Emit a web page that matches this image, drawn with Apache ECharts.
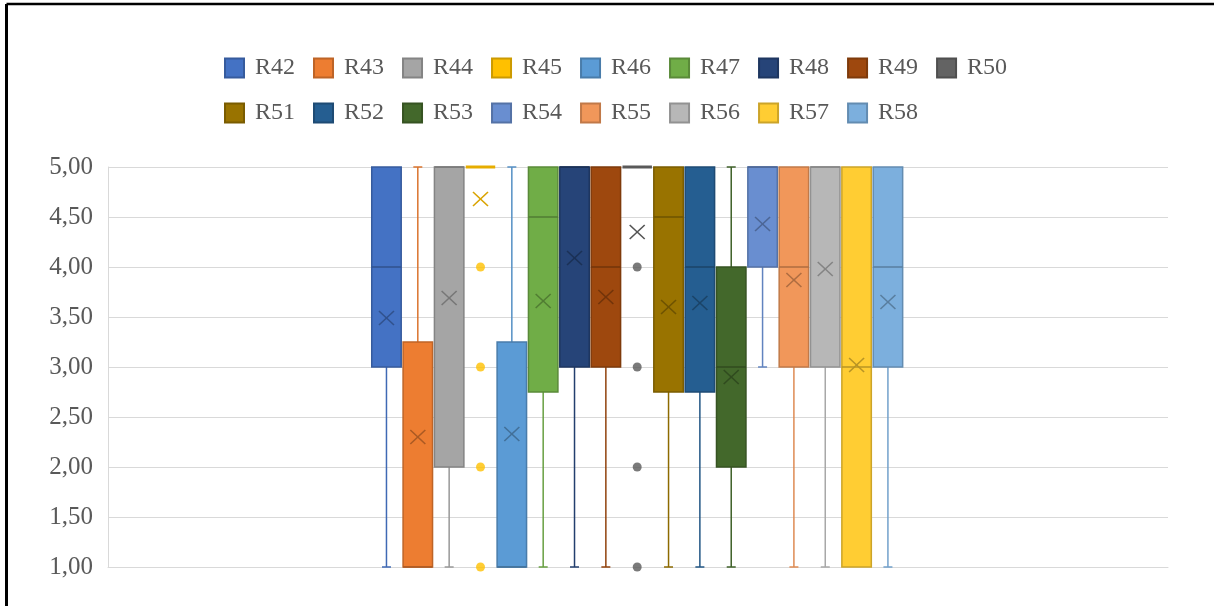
<!DOCTYPE html>
<html>
<head>
<meta charset="utf-8">
<script src="https://cdn.jsdelivr.net/npm/echarts@6/dist/echarts.min.js"></script>
<style>
html,body{margin:0;padding:0;background:#fff;}
#chart{width:1214px;height:606px;}
</style>
</head>
<body>
<div id="chart"></div>
<script>
// ---- data ----
const names   = ['R42','R43','R44','R45','R46','R47','R48','R49','R50','R51','R52','R53','R54','R55','R56','R57','R58'];
const mins    = [1, 1, 1, 5, 1, 1,    1, 1, 5, 1,    1,    1, 3, 1, 1, 1, 1];
const q1s     = [3, 1, 2, 5, 1, 2.75, 3, 3, 5, 2.75, 2.75, 2, 4, 3, 3, 1, 3];
const medians = [4, 1, 5, 5, 1, 4.5,  5, 4, 5, 4.5,  4,    3, 5, 4, 5, 3, 4];
const q3s     = [5, 3.25, 5, 5, 3.25, 5, 5, 5, 5, 5, 5, 4, 5, 5, 5, 5, 5];
const maxs    = [5, 5, 5, 5, 5, 5, 5, 5, 5, 5, 5, 5, 5, 5, 5, 5, 5];
const means   = [3.49, 2.30, 3.69, 4.68, 2.33, 3.66, 4.09, 3.70, 4.35, 3.60, 3.64, 2.90, 4.43, 3.87, 3.98, 3.02, 3.65];
const outliersR45 = [4, 3, 2, 1];
const outliersR50 = [4, 3, 2, 1];
const yTicks = [1, 1.5, 2, 2.5, 3, 3.5, 4, 4.5, 5];

// ---- styles ----
const colors = ['#4472C4','#ED7D31','#A5A5A5','#FFC000','#5B9BD5','#70AD47','#264478','#9E480E','#636363',
                '#997300','#255E91','#43682B','#698ED0','#F1975A','#B7B7B7','#FFCD33','#7CAFDD'];
function shade(hex, f) {
  const n = parseInt(hex.slice(1), 16);
  const r = Math.round(((n >> 16) & 255) * f), g = Math.round(((n >> 8) & 255) * f), b = Math.round((n & 255) * f);
  return '#' + [r, g, b].map(v => v.toString(16).padStart(2, '0')).join('');
}
const FONT = 'Liberation Serif';
const TXT = '#595959';

function makeRender(k) {
  return function (params, api) {
    const x = api.value(0);
    const pQ1 = api.coord([x, api.value(2)]);
    const cx = pQ1[0];
    const yMin = api.coord([x, api.value(1)])[1];
    const yQ1 = pQ1[1];
    const yMed = api.coord([x, api.value(3)])[1];
    const yQ3 = api.coord([x, api.value(4)])[1];
    const yMax = api.coord([x, api.value(5)])[1];
    const yMean = api.coord([x, api.value(6)])[1];
    const bw = api.size([1, 0])[0] * 0.94;
    const border = shade(colors[k], 0.8);
    const whisk = shade(colors[k], 0.92);
    const dark = shade(colors[k], 0.72);
    const capH = 4.5;
    const ch = [];
    const ln = (x1, y1, x2, y2, stroke, w) => ({
      type: 'line', shape: {x1, y1, x2, y2}, style: {stroke, lineWidth: w}
    });
    if (yMin - yQ1 > 0.5) {
      ch.push(ln(cx, yQ1, cx, yMin, whisk, 1.5));
      ch.push(ln(cx - capH, yMin, cx + capH, yMin, whisk, 1.5));
    }
    if (yQ3 - yMax > 0.5) {
      ch.push(ln(cx, yQ3, cx, yMax, whisk, 1.5));
      ch.push(ln(cx - capH, yMax, cx + capH, yMax, whisk, 1.5));
    }
    if (yQ1 - yQ3 > 0.5) {
      ch.push({type: 'rect', shape: {x: cx - bw / 2, y: yQ3, width: bw, height: yQ1 - yQ3},
               style: {fill: colors[k], stroke: border, lineWidth: 1.5}});
      ch.push(ln(cx - bw / 2, yMed, cx + bw / 2, yMed, dark, 1.5));
    } else {
      ch.push(ln(cx - bw / 2, yQ3, cx + bw / 2, yQ3, shade(colors[k], 0.9), 3));
    }
    const mx = 7.5, my = 7;
    const mc = (yQ1 - yQ3 > 0.5) ? dark : shade(colors[k], 0.85);
    ch.push(ln(cx - mx, yMean - my, cx + mx, yMean + my, mc, 1.6));
    ch.push(ln(cx - mx, yMean + my, cx + mx, yMean - my, mc, 1.6));
    return {type: 'group', children: ch};
  };
}

const series = names.map((nm, k) => ({
  name: nm,
  type: 'custom',
  xAxisIndex: 1,
  yAxisIndex: 1,
  clip: false,
  renderItem: makeRender(k),
  encode: {x: 0, y: [1, 2, 3, 4, 5, 6]},
  itemStyle: {color: colors[k], borderColor: shade(colors[k], 0.8), borderWidth: 1},
  data: [[k, mins[k], q1s[k], medians[k], q3s[k], maxs[k], means[k]]],
  z: 3
}));

function outlierSeries(nm, vals, col) {
  const k = names.indexOf(nm);
  return {
    name: nm, type: 'scatter', xAxisIndex: 1, yAxisIndex: 1, clip: false,
    symbol: 'circle', symbolSize: 9,
    itemStyle: {color: col},
    data: vals.map(v => [k, v]), z: 4
  };
}
series.push(outlierSeries('R45', outliersR45, '#FFC000'));
series.push(outlierSeries('R50', outliersR50, '#595959'));

const legendBase = {
  left: 219, orient: 'horizontal', icon: 'rect', itemWidth: 19, itemHeight: 19, itemGap: 18,
  selectedMode: false,
  textStyle: {fontFamily: FONT, fontSize: 24, color: TXT, padding: [0, 0, 0, 6]}
};

const option = {
  animation: false,
  backgroundColor: '#fff',
  legend: [
    Object.assign({}, legendBase, {top: 51, data: names.slice(0, 9)}),
    Object.assign({}, legendBase, {top: 96, data: names.slice(9)})
  ],
  grid: [
    {left: 108, right: 46, top: 167, bottom: 39},
    {left: 370.8, width: 532.8, top: 167, bottom: 39}
  ],
  xAxis: [
    {gridIndex: 0, type: 'category', data: [''], axisLine: {show: true, lineStyle: {color: '#d9d9d9'}},
     axisTick: {show: false}, axisLabel: {show: false}},
    {gridIndex: 1, type: 'category', data: names, show: false}
  ],
  yAxis: [
    {gridIndex: 0, type: 'value', min: yTicks[0], max: yTicks[yTicks.length - 1], interval: 0.5,
     axisLine: {show: true, lineStyle: {color: '#d9d9d9', width: 1}},
     axisTick: {show: false},
     splitLine: {show: true, lineStyle: {color: '#d9d9d9', width: 1}},
     axisLabel: {fontFamily: FONT, fontSize: 25, color: TXT, margin: 15,
                 formatter: v => v.toFixed(2).replace('.', ',')}},
    {gridIndex: 1, type: 'value', min: yTicks[0], max: yTicks[yTicks.length - 1], show: false}
  ],
  graphic: [
    {type: 'line', shape: {x1: 6.5, y1: 4, x2: 1214, y2: 4}, style: {stroke: '#000', lineWidth: 2.5}, z: 10},
    {type: 'line', shape: {x1: 6.5, y1: 4, x2: 6.5, y2: 606}, style: {stroke: '#000', lineWidth: 3}, z: 10}
  ],
  series: series
};

const chart = echarts.init(document.getElementById('chart'), null, {renderer: 'canvas'});
chart.setOption(option);
</script>
</body>
</html>
